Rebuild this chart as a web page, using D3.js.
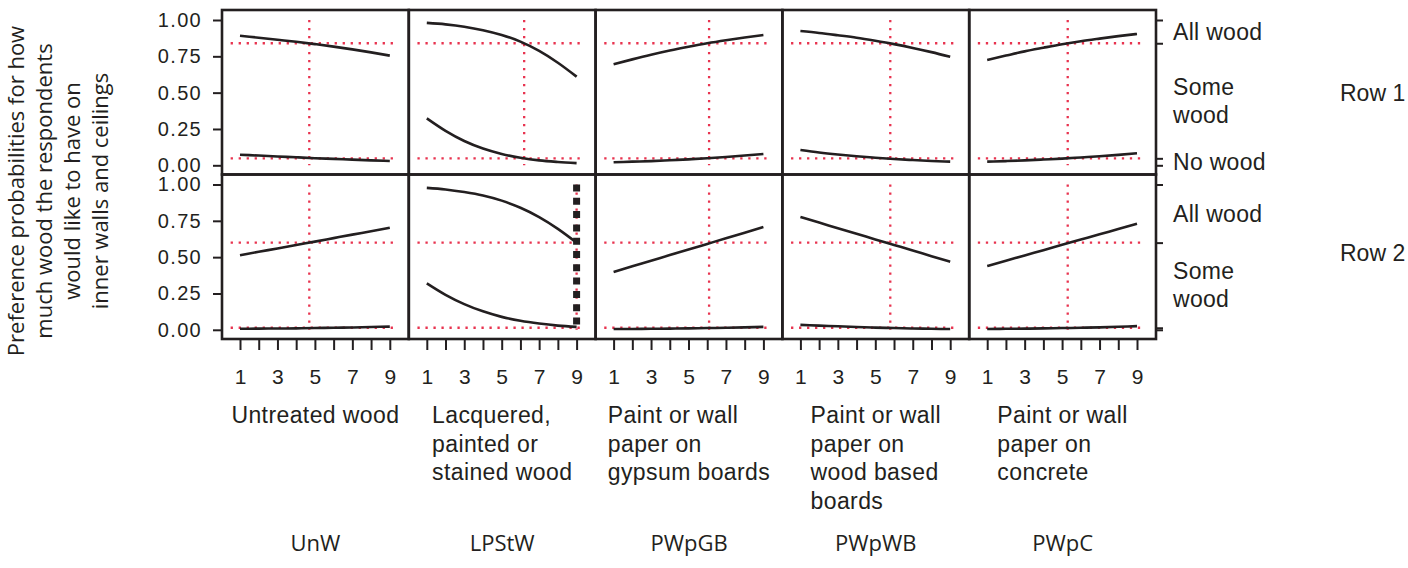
<!DOCTYPE html>
<html>
<head>
<meta charset="utf-8">
<script src="https://cdn.jsdelivr.net/npm/d3@7"></script>
<style>
    body { margin: 0; background: #fff; }
    svg { display: block; }
    .arial { font-family: 'Liberation Sans', Arial, sans-serif; fill: #231f20; }
    .humanist { font-family: 'Open Sans', 'Noto Sans', sans-serif; fill: #231f20; }
    .frame { fill: none; stroke: #231f20; stroke-width: 2.6; }
    .curve { fill: none; stroke: #231f20; stroke-width: 2.6; }
    .ref { stroke: #e8334f; stroke-width: 2.3; stroke-dasharray: 2.3 5.7; }
    .highlight { stroke: #231f20; stroke-width: 7; stroke-dasharray: 7 6.3; }
    .axis path.domain { display: none; }
    .axis line { stroke: #231f20; stroke-width: 2; }
</style>
</head>
<body>
<svg width="1408" height="568"></svg>
<script>
const CATEGORY_LINES = [
    ['Untreated wood'],
    ['Lacquered,', 'painted or', 'stained wood'],
    ['Paint or wall', 'paper on', 'gypsum boards'],
    ['Paint or wall', 'paper on', 'wood based', 'boards'],
    ['Paint or wall', 'paper on', 'concrete'],
];
const CODES = ['UnW', 'LPStW', 'PWpGB', 'PWpWB', 'PWpC'];
const ROWS = ['Row 1', 'Row 2'];
const X_LEVELS = [1, 2, 3, 4, 5, 6, 7, 8, 9];
const X_TICK_LABELS = [1, 3, 5, 7, 9];
const Y_TICKS = [0, 0.25, 0.5, 0.75, 1];
const LEVEL_LINES = [['All wood'], ['Some', 'wood'], ['No wood']];
const Y_TITLE = [
    'Preference probabilities for how',
    'much wood the respondents',
    'would like to have on',
    'inner walls and ceilings',
];

// upper curve: P(No wood) + P(Some wood), lower curve: P(No wood), at x = 1..9
const ROW1_UPPER = [
    [0.892, 0.878, 0.864, 0.850, 0.834, 0.817, 0.798, 0.777, 0.755],
    [0.980, 0.970, 0.954, 0.930, 0.897, 0.851, 0.787, 0.706, 0.610],
    [0.695, 0.729, 0.761, 0.790, 0.816, 0.840, 0.861, 0.880, 0.897],
    [0.924, 0.911, 0.895, 0.878, 0.857, 0.834, 0.808, 0.779, 0.747],
    [0.725, 0.755, 0.784, 0.809, 0.833, 0.854, 0.872, 0.889, 0.904],
];
const ROW1_LOWER = [
    [0.073, 0.067, 0.061, 0.055, 0.049, 0.044, 0.039, 0.034, 0.030],
    [0.323, 0.237, 0.167, 0.115, 0.078, 0.052, 0.034, 0.023, 0.015],
    [0.021, 0.025, 0.029, 0.035, 0.041, 0.048, 0.057, 0.067, 0.078],
    [0.105, 0.088, 0.074, 0.062, 0.052, 0.043, 0.036, 0.030, 0.025],
    [0.025, 0.029, 0.034, 0.040, 0.046, 0.054, 0.062, 0.072, 0.083],
];
const ROW2_UPPER = [
    [0.513, 0.537, 0.560, 0.584, 0.607, 0.631, 0.655, 0.678, 0.702],
    [0.977, 0.966, 0.948, 0.924, 0.889, 0.840, 0.776, 0.695, 0.600],
    [0.398, 0.437, 0.475, 0.514, 0.552, 0.591, 0.630, 0.668, 0.707],
    [0.776, 0.738, 0.699, 0.661, 0.622, 0.584, 0.546, 0.507, 0.469],
    [0.439, 0.475, 0.512, 0.548, 0.585, 0.621, 0.657, 0.694, 0.730],
];
const ROW2_LOWER = [
    [0.007, 0.008, 0.009, 0.010, 0.012, 0.014, 0.016, 0.019, 0.022],
    [0.320, 0.241, 0.177, 0.127, 0.089, 0.062, 0.043, 0.029, 0.020],
    [0.005, 0.006, 0.007, 0.008, 0.010, 0.012, 0.014, 0.017, 0.020],
    [0.034, 0.029, 0.024, 0.019, 0.015, 0.012, 0.009, 0.007, 0.005],
    [0.005, 0.007, 0.008, 0.010, 0.012, 0.014, 0.017, 0.021, 0.025],
];
const ROW1_CURRENT = [4.7, 6.2, 6.1, 5.8, 5.3];
const ROW2_CURRENT = [4.7, 9, 6.1, 5.8, 5.3];
const ROW1_CUTS = [0.84, 0.048];
const ROW2_CUTS = [0.60, 0.014];
const HIGHLIGHT = { row: 1, panel: 1, x: 9 };

const ROW_DATA = [
    { upper: ROW1_UPPER, lower: ROW1_LOWER, current: ROW1_CURRENT, cuts: ROW1_CUTS },
    { upper: ROW2_UPPER, lower: ROW2_LOWER, current: ROW2_CURRENT, cuts: ROW2_CUTS },
];

const PARAMS = {
    left: 222,
    top: 10,
    panelW: 186.8,
    rowH: 164.5,
    padTop: 10,
    padBottom: 9.2,
    padLeft: 18,
    padRight: 19,
};

const svg = d3.select('svg');

const xScaleFor = c => {
    const x0 = PARAMS.left + c * PARAMS.panelW;
    return d3.scaleLinear().domain([1, 9]).range([x0 + PARAMS.padLeft, x0 + PARAMS.panelW - PARAMS.padRight]);
};
const yScaleFor = r => {
    const y0 = PARAMS.top + r * PARAMS.rowH;
    return d3.scaleLinear().domain([0, 1]).range([y0 + PARAMS.rowH - PARAMS.padBottom, y0 + PARAMS.padTop]);
};

const right = PARAMS.left + CODES.length * PARAMS.panelW;

ROW_DATA.forEach((row, r) => {
    const y = yScaleFor(r);

    CODES.forEach((code, c) => {
        const x = xScaleFor(c);
        const g = svg.append('g');

        g.selectAll('.ref-h')
            .data(row.cuts)
            .enter()
            .append('line')
            .attr('class', 'ref')
            .attr('x1', x(0.5))
            .attr('x2', x(9.3))
            .attr('y1', d => y(d))
            .attr('y2', d => y(d));

        g.append('line')
            .attr('class', 'ref')
            .attr('x1', x(row.current[c]))
            .attr('x2', x(row.current[c]))
            .attr('y1', y(1))
            .attr('y2', y(0));

        const line = d3.line()
            .x((d, i) => x(X_LEVELS[i]))
            .y(d => y(d))
            .curve(d3.curveMonotoneX);

        g.selectAll('.curve')
            .data([row.upper[c], row.lower[c]])
            .enter()
            .append('path')
            .attr('class', 'curve')
            .attr('d', line);

        if (HIGHLIGHT.row === r && HIGHLIGHT.panel === c) {
            g.append('line')
                .attr('class', 'highlight')
                .attr('x1', x(HIGHLIGHT.x))
                .attr('x2', x(HIGHLIGHT.x))
                .attr('y1', y(1))
                .attr('y2', y(0));
        }
    });

    svg.append('g')
        .attr('class', 'axis arial')
        .attr('transform', `translate(${PARAMS.left},0)`)
        .call(d3.axisLeft(y).tickValues(Y_TICKS).tickFormat(d3.format('.2f')).tickSize(9).tickPadding(11))
        .selectAll('text')
        .attr('class', 'arial')
        .style('font-size', '20px')
        .style('letter-spacing', '1.3px');

    const bounds = [1, ...row.cuts, 0];
    svg.append('g')
        .attr('class', 'axis')
        .attr('transform', `translate(${right},0)`)
        .call(d3.axisRight(y).tickValues(bounds).tickFormat('').tickSize(7));

    LEVEL_LINES.forEach((lines, k) => {
        const hi = bounds[k], lo = bounds[k + 1];
        if (hi - lo < 0.03) return;
        const cy = y((hi + lo) / 2);
        svg.append('g')
            .selectAll('text')
            .data(lines)
            .enter()
            .append('text')
            .attr('class', 'arial')
            .style('font-size', '23px')
            .style('letter-spacing', '0.3px')
            .attr('x', right + 17)
            .attr('y', (d, i) => cy + 8 + (i - (lines.length - 1) / 2) * 28.5)
            .text(d => d);
    });

    svg.append('text')
        .attr('class', 'arial')
        .style('font-size', '23px')
        .attr('x', 1340)
        .attr('y', y(0.5) + 8 - r * 4)
        .text(ROWS[r]);
});

// panel frames
ROW_DATA.forEach((row, r) => {
    CODES.forEach((code, c) => {
        svg.append('rect')
            .attr('class', 'frame')
            .attr('x', PARAMS.left + c * PARAMS.panelW)
            .attr('y', PARAMS.top + r * PARAMS.rowH)
            .attr('width', PARAMS.panelW)
            .attr('height', PARAMS.rowH);
    });
});

const bottom = PARAMS.top + ROWS.length * PARAMS.rowH;

CODES.forEach((code, c) => {
    const x = xScaleFor(c);
    const cx = PARAMS.left + (c + 0.5) * PARAMS.panelW;

    svg.append('g')
        .attr('class', 'axis')
        .attr('transform', `translate(0,${bottom})`)
        .call(d3.axisBottom(x).tickValues(X_LEVELS)
            .tickFormat(d => X_TICK_LABELS.includes(d) ? d : '')
            .tickSize(11).tickPadding(19))
        .selectAll('text')
        .attr('class', 'arial')
        .style('font-size', '21px');

    const block = svg.append('g');
    const texts = block.selectAll('text')
        .data(CATEGORY_LINES[c])
        .enter()
        .append('text')
        .attr('class', 'arial')
        .style('font-size', '23px')
        .style('letter-spacing', '0.4px')
        .attr('y', (d, i) => 423 + i * 28.5)
        .text(d => d);
    const w = d3.max(texts.nodes(), n => n.getComputedTextLength());
    texts.attr('x', cx - w / 2);

    svg.append('text')
        .attr('class', 'humanist')
        .style('font-size', '22px')
        .attr('text-anchor', 'middle')
        .attr('x', cx)
        .attr('y', 551)
        .text(code);
});

svg.append('g')
    .attr('transform', 'translate(0,191) rotate(-90)')
    .selectAll('text')
    .data(Y_TITLE)
    .enter()
    .append('text')
    .attr('class', 'humanist')
    .style('font-size', '22px')
    .attr('text-anchor', 'middle')
    .attr('x', 0)
    .attr('y', (d, i) => 23.5 + i * 28)
    .text(d => d);
</script>
</body>
</html>
